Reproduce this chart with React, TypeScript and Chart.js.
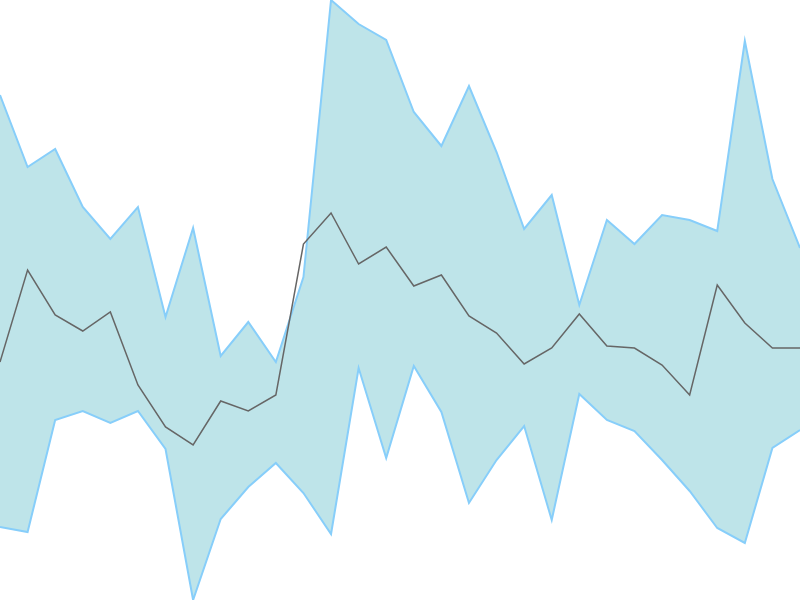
// @ts-nocheck
import { useEffect, useRef } from 'react';
import { Chart } from 'chart.js/auto';

// 30 evenly spaced samples, no visible axes
const labels = Array.from({ length: 30 }, (_, i) => String(i + 1));

const upper = [
	50.5, 43.3, 45.1, 39.3, 36.1, 39.3, 28.3, 37.2, 24.4, 27.8, 23.8, 32.3, 60, 57.6, 56,
	48.8, 45.4, 51.4, 44.8, 37.1, 40.5, 29.5, 38, 35.6, 38.5, 38, 36.9, 55.9, 42.1, 35.2,
];

const middle = [
	23.8, 33, 28.5, 26.9, 28.8, 21.5, 17.3, 15.5, 19.9, 18.9, 20.5, 35.6, 38.7, 33.6, 35.3,
	31.4, 32.5, 28.4, 26.7, 23.6, 25.2, 28.6, 25.4, 25.2, 23.5, 20.5, 31.5, 27.7, 25.2, 25.2,
];

const lower = [
	7.3, 6.8, 18, 18.9, 17.7, 18.9, 15.1, 0, 8.1, 11.3, 13.7, 10.7, 6.6, 23.2, 14.2,
	23.4, 18.8, 9.7, 14, 17.4, 8, 20.6, 18, 16.9, 14, 10.9, 7.2, 5.7, 15.2, 17,
];

const yMin = 0;
const yMax = 60;

function BandChart() {
	const chartRef = useRef(null);

	useEffect(() => {
		if (!chartRef.current) return;
		const existing = Chart.getChart(chartRef.current);
		if (existing) existing.destroy();

		const bandLine = 'rgb(135, 206, 250)';
		const bandFill = 'rgb(190, 228, 233)';

		const chart = new Chart(chartRef.current, {
			type: 'line',
			data: {
				labels,
				datasets: [
					{
						label: 'middle',
						data: middle,
						borderColor: 'rgb(102, 102, 102)',
						borderWidth: 1.5,
						pointRadius: 0,
						fill: false,
						tension: 0,
					},
					{
						label: 'lower',
						data: lower,
						borderColor: bandLine,
						borderWidth: 2,
						pointRadius: 0,
						fill: false,
						tension: 0,
					},
					{
						label: 'upper',
						data: upper,
						borderColor: bandLine,
						backgroundColor: bandFill,
						borderWidth: 2,
						pointRadius: 0,
						fill: 1,
						tension: 0,
					},
				],
			},
			options: {
				responsive: false,
				animation: false,
				layout: { padding: 0 },
				plugins: {
					legend: { display: false },
					tooltip: { enabled: false },
				},
				scales: {
					x: { display: false, offset: false },
					y: { display: false, min: yMin, max: yMax },
				},
			},
		});

		return () => chart.destroy();
	}, []);

	return <canvas ref={chartRef} width={800} height={600} style={{ display: 'block' }} />;
}

export default function App() {
	useEffect(() => {
		document.body.style.margin = '0';
	}, []);

	return (
		<div style={{ width: 800, height: 600, background: 'white' }}>
			<BandChart />
		</div>
	);
}
